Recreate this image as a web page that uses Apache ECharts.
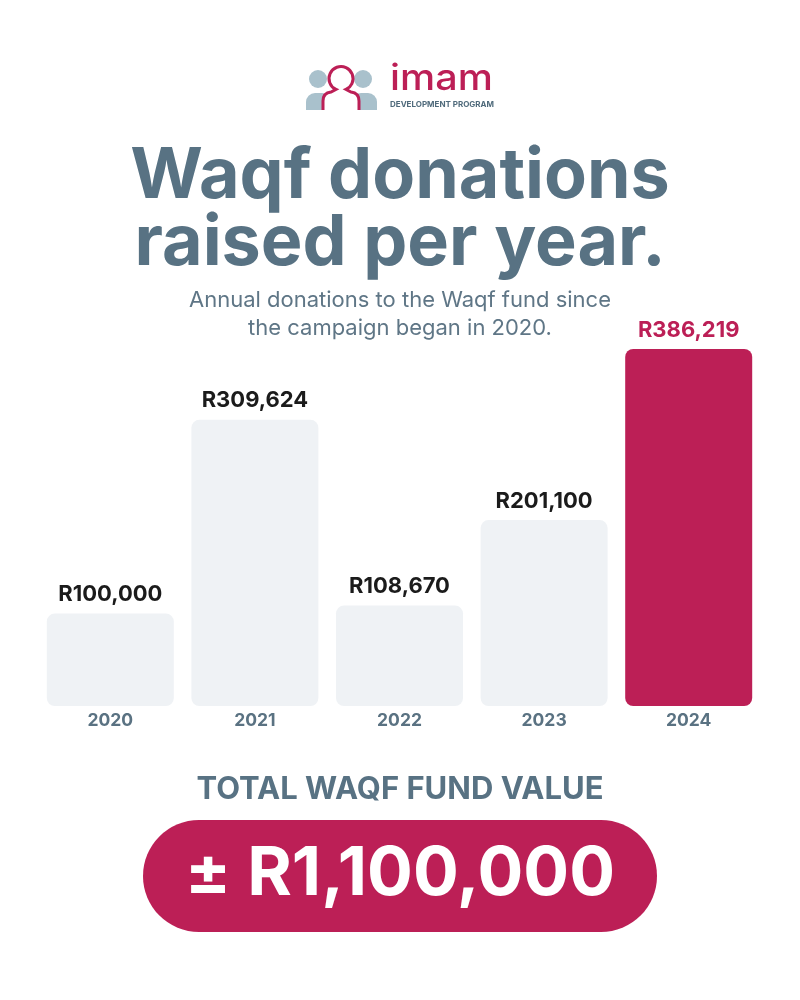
<!DOCTYPE html>
<html>
<head>
<meta charset="utf-8">
<script src="https://cdn.jsdelivr.net/npm/echarts@6/dist/echarts.min.js"></script>
<style>
  html, body { margin: 0; padding: 0; background: #ffffff; }
  #chart { width: 800px; height: 1000px; }
</style>
</head>
<body>
<div id="chart"></div>
<script>
// ---- data ----
const years = ['2020', '2021', '2022', '2023', '2024'];
const donations = [100000, 309624, 108670, 201100, 386219];
const highlightYear = '2024';
const titleLines = ['Waqf donations', 'raised per year.'];
const subtitleLines = ['Annual donations to the Waqf fund since', 'the campaign began in 2020.'];
const totalLabel = 'TOTAL WAQF FUND VALUE';
const totalValue = '± R1,100,000';
const logoWord = 'imam';
const logoSub = 'DEVELOPMENT PROGRAM';

// ---- styles ----
const CRIMSON = '#bc1f56';
const SLATE = '#587283';
const LIGHT = '#eff2f5';
const BACKFIG = '#a9c1cc';
const FONT = 'Inter, "Noto Sans", sans-serif';

// logo person shape (open at the bottom)
const Figure = echarts.graphic.extendShape({
  shape: { cx: 0, cy: 0, r: 12, w: 18, top: 92, bottom: 110 },
  buildPath: function (ctx, s) {
    const nx = 5, ny = Math.sqrt(s.r * s.r - nx * nx);
    ctx.moveTo(s.cx - s.w, s.bottom);
    ctx.lineTo(s.cx - s.w, s.top + 9);
    ctx.quadraticCurveTo(s.cx - s.w, s.top + 1, s.cx - 10, s.top);
    ctx.lineTo(s.cx - nx, s.cy + ny);
    ctx.arc(s.cx, s.cy, s.r, Math.atan2(ny, -nx), Math.atan2(ny, nx), false);
    ctx.lineTo(s.cx + 10, s.top);
    ctx.quadraticCurveTo(s.cx + s.w, s.top + 1, s.cx + s.w, s.top + 9);
    ctx.lineTo(s.cx + s.w, s.bottom);
  }
});
echarts.graphic.registerShape('logoFigure', Figure);

const barData = donations.map((v, i) => {
  const hi = years[i] === highlightYear;
  return {
    value: v,
    itemStyle: { color: hi ? CRIMSON : LIGHT },
    label: { color: hi ? CRIMSON : '#1b1b1b' }
  };
});

const chart = echarts.init(document.getElementById('chart'), null, { renderer: 'canvas' });

const option = {
  backgroundColor: '#ffffff',
  animation: false,
  grid: { left: 38, right: 39, top: 349, bottom: 294 },
  xAxis: {
    type: 'category',
    data: years,
    axisLine: { show: false },
    axisTick: { show: false },
    axisLabel: { color: '#5a7282', fontFamily: FONT, fontWeight: 700, fontSize: 17.5, margin: 6 }
  },
  yAxis: {
    type: 'value',
    min: 0,
    max: 'dataMax',
    show: false,
    splitLine: { show: false }
  },
  series: [{
    type: 'bar',
    data: barData,
    barWidth: 127,
    itemStyle: { borderRadius: 8 },
    label: {
      show: true,
      position: 'top',
      distance: 8,
      fontFamily: FONT,
      fontWeight: 700,
      fontSize: 22,
      formatter: p => 'R' + p.value.toLocaleString('en-US')
    }
  }],
  graphic: [
    // logo: back figures
    { type: 'circle', shape: { cx: 318, cy: 79, r: 9 }, style: { fill: BACKFIG } },
    { type: 'rect', shape: { x: 306, y: 93, width: 25, height: 17, r: [9, 9, 0, 0] }, style: { fill: BACKFIG } },
    { type: 'circle', shape: { cx: 363, cy: 79, r: 9 }, style: { fill: BACKFIG } },
    { type: 'rect', shape: { x: 352, y: 93, width: 25, height: 17, r: [9, 9, 0, 0] }, style: { fill: BACKFIG } },
    // logo: front figure
    { type: 'logoFigure', shape: { cx: 341, cy: 78.5, r: 12, w: 18, top: 92, bottom: 110 },
      style: { fill: '#ffffff', stroke: CRIMSON, lineWidth: 3 } },
    // logo: word
    { type: 'text', x: 390, y: 79, scaleX: 1.1, originX: 0, originY: 0,
      style: { text: logoWord, fill: CRIMSON, font: '500 36px ' + FONT, align: 'left', verticalAlign: 'middle' } },
    { type: 'text', x: 390, y: 104.5,
      style: { text: logoSub, fill: '#4f6a7b', font: '700 8px ' + FONT, align: 'left', verticalAlign: 'middle' } },
    // title
    { type: 'text', x: 400, y: 177,
      style: { text: titleLines[0], fill: SLATE, font: '700 70px ' + FONT, align: 'center', verticalAlign: 'middle' } },
    { type: 'text', x: 400, y: 244,
      style: { text: titleLines[1], fill: SLATE, font: '700 70px ' + FONT, align: 'center', verticalAlign: 'middle' } },
    // subtitle
    { type: 'text', x: 400, y: 300,
      style: { text: subtitleLines[0], fill: '#5f7686', font: '400 22px ' + FONT, align: 'center', verticalAlign: 'middle' } },
    { type: 'text', x: 400, y: 328,
      style: { text: subtitleLines[1], fill: '#5f7686', font: '400 22px ' + FONT, align: 'center', verticalAlign: 'middle' } },
    // total label
    { type: 'text', x: 400, y: 790,
      style: { text: totalLabel, fill: SLATE, font: '700 31px ' + FONT, align: 'center', verticalAlign: 'middle' } },
    // pill
    { type: 'rect', shape: { x: 143, y: 820, width: 514, height: 112, r: 56 }, style: { fill: CRIMSON } },
    { type: 'text', x: 400, y: 875, z: 10,
      style: { text: totalValue, fill: '#ffffff', font: '700 68px ' + FONT, align: 'center', verticalAlign: 'middle' } }
  ]
};

chart.setOption(option);
</script>
</body>
</html>
